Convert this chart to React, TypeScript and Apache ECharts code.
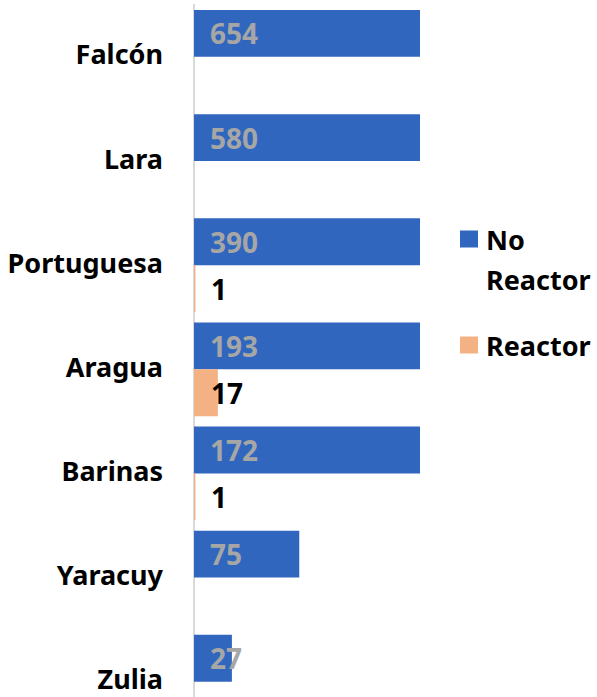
import React, { useEffect, useRef } from "react";
import * as echarts from "echarts";

const categories = ["Falcón", "Lara", "Portuguesa", "Aragua", "Barinas", "Yaracuy", "Zulia"];
const noReactor = [654, 580, 390, 193, 172, 75, 27];
const reactor = [0, 0, 1, 17, 1, 0, 0];
const seriesNames = ["No Reactor", "Reactor"];

const FONT = '"Noto Sans", "DejaVu Sans", sans-serif';

export default function App() {
  const ref = useRef<HTMLDivElement>(null);
  useEffect(() => {
    if (!ref.current) return;
    const chart = echarts.init(ref.current, undefined, { renderer: "svg" });
    chart.setOption({
      animation: false,
      grid: {
        left: 194,
        top: 4.8,
        width: 226,
        height: 729,
        containLabel: false,
        outerBoundsMode: "none",
      },
      xAxis: {
        type: "value",
        min: 0,
        max: 161,
        show: false,
      },
      yAxis: {
        type: "category",
        data: categories,
        inverse: true,
        axisLine: { show: true, lineStyle: { color: "#D9D9D9", width: 2 } },
        axisTick: { show: false },
        axisLabel: {
          margin: 31,
          formatter: (v: string) => `{a|${v}}`,
          rich: {
            a: {
              color: "#000",
              fontWeight: "bold",
              fontSize: 27,
              lineHeight: 26,
              padding: [0, 0, 6, 0],
              fontFamily: FONT,
            },
          },
        },
      },
      legend: [
        {
          data: [seriesNames[0]],
          orient: "vertical",
          left: 455,
          top: 174,
          itemWidth: 18,
          itemHeight: 17,
          icon: "rect",
          formatter: () => " \nNo\nReactor",
          textStyle: {
            fontSize: 27,
            fontWeight: "bold",
            color: "#000",
            fontFamily: FONT,
            lineHeight: 40,
            padding: [0, 0, 0, 3],
          },
        },
        {
          data: [seriesNames[1]],
          orient: "vertical",
          left: 455,
          top: 320,
          itemWidth: 18,
          itemHeight: 17,
          icon: "rect",
          textStyle: {
            fontSize: 27,
            fontWeight: "bold",
            color: "#000",
            fontFamily: FONT,
            lineHeight: 40,
            padding: [0, 0, 0, 3],
          },
        },
      ],
      series: [
        {
          name: seriesNames[0],
          type: "bar",
          data: noReactor,
          barGap: "0%",
          barCategoryGap: "10%",
          clip: true,
          itemStyle: { color: "#3066BE" },
          label: {
            show: true,
            position: "insideLeft",
            distance: 16,
            color: "#A6A6A6",
            fontWeight: "bold",
            fontSize: 28,
            fontFamily: FONT,
          },
        },
        {
          name: seriesNames[1],
          type: "bar",
          data: reactor,
          barGap: "0%",
          barCategoryGap: "10%",
          clip: true,
          itemStyle: { color: "#F4B183" },
          label: {
            show: true,
            position: "insideLeft",
            distance: 17,
            color: "#000",
            fontWeight: "bold",
            fontSize: 28,
            fontFamily: FONT,
            formatter: (p: any) => (p.value ? String(p.value) : ""),
          },
        },
      ],
    });
    return () => chart.dispose();
  }, []);
  return (
    <div
      style={{
        position: "absolute",
        left: 0,
        top: 0,
        width: 597,
        height: 697,
        overflow: "hidden",
      }}
    >
      <div ref={ref} style={{ width: 597, height: 740 }} />
    </div>
  );
}
